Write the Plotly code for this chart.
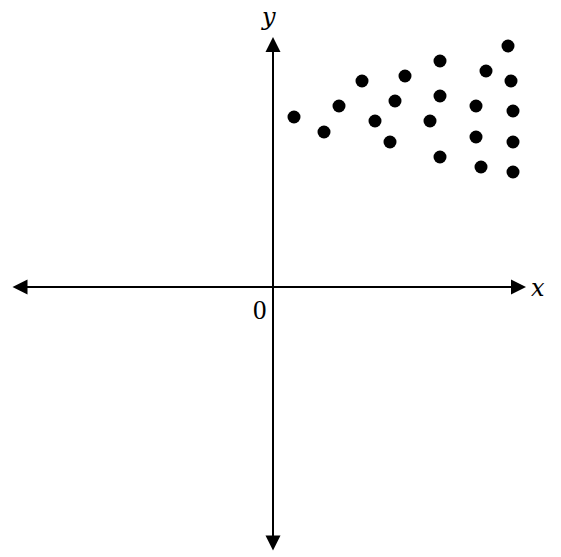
import plotly.graph_objects as go

# scatter data (arbitrary units, origin at axis crossing)
xs = [2.1, 5.1, 6.6, 8.9, 10.2, 11.7, 12.2, 13.2, 15.7, 16.7, 16.7, 16.7,
      20.3, 20.3, 20.8, 21.3, 23.5, 23.8, 24.0, 24.0, 24.0]
ys = [17.0, 15.5, 18.1, 20.6, 16.6, 14.5, 18.6, 21.1, 16.6, 22.6, 19.1, 13.0,
      18.1, 15.0, 12.0, 21.6, 24.1, 20.6, 17.6, 14.5, 11.5]

# axis extents
x_axis_ends = [-26.2, 25.3]
y_axis_ends = [-26.5, 25.0]
x_range = [-27.3, 28.8]
y_range = [-27.0, 28.7]

fig = go.Figure()
fig.add_trace(go.Scatter(x=xs, y=ys, mode="markers",
                         marker=dict(color="black", size=13),
                         hoverinfo="skip", showlegend=False))

arrow_common = dict(xref="x", yref="y", axref="x", ayref="y", text="",
                    showarrow=True, arrowhead=2, arrowsize=1.5, arrowwidth=2,
                    arrowcolor="black", arrowside="end+start",
                    standoff=0, startstandoff=0, startarrowhead=2,
                    startarrowsize=1.5)
fig.add_annotation(x=x_axis_ends[1], y=0, ax=x_axis_ends[0], ay=0, **arrow_common)
fig.add_annotation(x=0, y=y_axis_ends[1], ax=0, ay=y_axis_ends[0], **arrow_common)

label_font = dict(family="DejaVu Serif", size=24, color="black")
fig.add_annotation(x=26.5, y=-0.1, text="<i>x</i>", showarrow=False, font=label_font)
fig.add_annotation(x=-0.5, y=27.0, text="<i>y</i>", showarrow=False, font=label_font)
fig.add_annotation(x=-1.3, y=-2.3, text="0", showarrow=False,
                   font=dict(family="Liberation Serif", size=27, color="black"))

fig.update_xaxes(range=x_range, visible=False, fixedrange=True)
fig.update_yaxes(range=y_range, visible=False, fixedrange=True)
fig.update_layout(width=561, height=557, margin=dict(l=0, r=0, t=0, b=0),
                  plot_bgcolor="white", paper_bgcolor="white")

fig.write_html("out.html", config={"displayModeBar": False},
               post_script="document.body.style.margin='0px';")
